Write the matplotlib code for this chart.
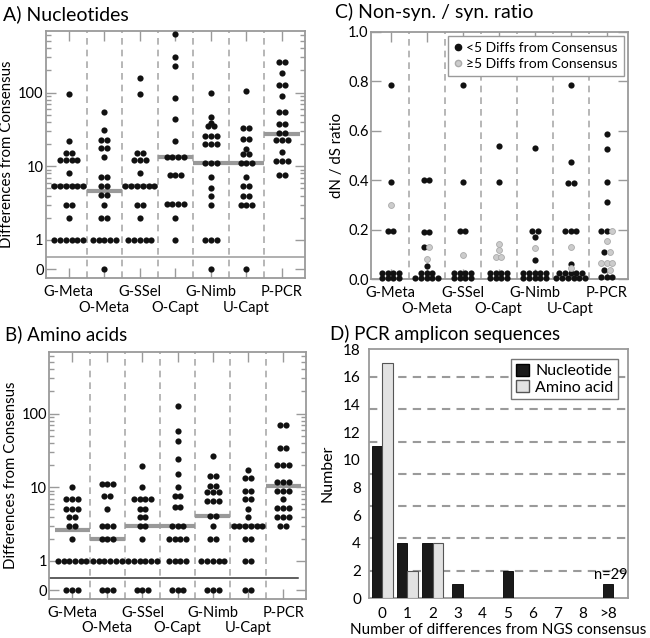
import numpy as np
import matplotlib
matplotlib.use('Agg')
import matplotlib.pyplot as plt
from matplotlib.ticker import FixedLocator, NullFormatter, FuncFormatter
from matplotlib.lines import Line2D
from matplotlib.patches import Patch
from collections import Counter

plt.rcParams['font.family'] = ['Lato', 'DejaVu Sans']

groups = ['G-Meta', 'O-Meta', 'G-SSel', 'O-Capt', 'G-Nimb', 'U-Capt', 'P-PCR']

# A) nucleotide differences from consensus (one list per group)
nt_diffs = [
    [95, 22, 15, 15, 12, 12, 12, 12, 8, 5.4, 5.4, 5.4, 5.4, 5.4, 5.4, 3, 3, 2, 1, 1, 1, 1, 1, 1],
    [55, 31, 22.5, 22.5, 17.5, 17.5, 13.5, 7.1, 7.1, 5.4, 5.4, 4.1, 4.1, 3, 2, 2, 1, 1, 1, 1, 1, 0],
    [157, 95, 15, 15, 12, 12, 12, 8, 5.4, 5.4, 5.4, 5.4, 5.4, 5.4, 3, 3, 2, 1, 1, 1, 1, 1],
    [615, 306, 230, 84, 44, 22, 13.2, 13.2, 13.2, 13.2, 7.6, 7.6, 7.6, 3.1, 3.1, 3.1, 3.1, 2, 1],
    [100, 46, 39, 35, 35, 26, 26, 26, 20, 20, 20, 11, 11, 11, 7.1, 5.1, 4, 3, 1, 1, 1, 0],
    [106, 33.5, 33.5, 23.5, 23.5, 17.3, 14.7, 14.7, 11, 11, 11, 7.1, 5.4, 5.4, 4, 4, 3, 3, 3, 0],
    [257, 257, 186, 127, 127, 90, 55, 55, 38, 38, 28, 28, 22.7, 22.7, 22.7, 15.5, 11.7, 11.7, 11.7, 7.6, 7.6],
]
nt_medians = [5.4, 4.6, 5.4, 13.2, 11, 11, 27.5]

# B) amino acid differences from consensus
aa_diffs = [
    [10, 7, 7, 7, 5, 5, 5, 3.9, 3.9, 3, 3, 2, 1, 1, 1, 1, 1, 1, 0, 0, 0],
    [11.2, 11.2, 11.2, 7.6, 7.6, 5, 3, 3, 3, 2, 2, 2, 1, 1, 1, 1, 1, 1, 0, 0, 0],
    [19.3, 10, 7, 7, 7, 7, 5, 5, 3.9, 3.9, 3, 3, 2, 1, 1, 1, 1, 1, 1, 0, 0, 0],
    [125, 58, 42, 24.4, 15.3, 10, 7.6, 7.6, 5.4, 5.4, 3, 3, 3, 2, 2, 2, 2, 1, 1, 1, 1, 0, 0, 0],
    [26.4, 14, 14, 10.3, 10.3, 8.7, 8.7, 8.7, 6.5, 6.5, 6.5, 4.1, 4.1, 3, 2, 2, 1, 1, 1, 1, 1, 0, 0, 0],
    [17.3, 13.3, 13.3, 9, 9, 7, 7, 5, 4, 3, 3, 3, 3, 3, 3, 2, 2, 1, 1, 0, 0],
    [69, 69, 34, 34, 20, 20, 20, 11.7, 11.7, 11.7, 9, 9, 9, 7, 5.3, 5.3, 5.3, 4, 4, 4, 3, 3],
]
aa_medians = [2.65, 2.0, 3.0, 3.0, 4.1, 3.0, 10.4]

# C) dN/dS ratio, split by number of differences from consensus
dnds_low = [
    [0.785, 0.394, 0.196, 0.196, 0.024, 0.024, 0.024, 0.024, 0.004, 0.004, 0.004, 0.004],
    [0.402, 0.402, 0.192, 0.192, 0.132, 0.055, 0.024, 0.024, 0.024, 0.004, 0.004, 0.004, 0.004, 0.004],
    [0.785, 0.394, 0.196, 0.196, 0.024, 0.024, 0.024, 0.024, 0.004, 0.004, 0.004, 0.004],
    [0.538, 0.394, 0.024, 0.024, 0.024, 0.024, 0.004, 0.004, 0.004, 0.004],
    [0.529, 0.196, 0.196, 0.170, 0.078, 0.024, 0.024, 0.024, 0.024, 0.024, 0.004, 0.004, 0.004, 0.004, 0.004],
    [0.785, 0.472, 0.390, 0.390, 0.196, 0.196, 0.196, 0.061, 0.024, 0.024, 0.024, 0.024, 0.024,
     0.004, 0.004, 0.004, 0.004, 0.004, 0.004],
    [0.586, 0.525, 0.392, 0.313, 0.196, 0.196, 0.109, 0.038, 0.008, 0.008, 0.008],
]
dnds_high = [
    [0.30],
    [0.132, 0.082],
    [0.098],
    [0.143, 0.118, 0.091, 0.091],
    [0.128],
    [0.132, 0.044],
    [0.196, 0.156, 0.109, 0.067, 0.067, 0.067, 0.038],
]

# D) PCR amplicon sequences
d_cats = ['0', '1', '2', '3', '4', '5', '6', '7', '8', '>8']
d_nuc = [11, 4, 4, 1, 0, 2, 0, 0, 0, 1]
d_aa = [17, 2, 4, 0, 0, 0, 0, 0, 0, 0]


def rows(vals, dx):
    # equal values sit side by side, centred on the group
    counts = Counter(vals)
    seen = {}
    offs = []
    for v in vals:
        k = seen.get(v, 0)
        seen[v] = k + 1
        offs.append((k - (counts[v] - 1) / 2) * dx)
    return np.array(offs)


def fwd(v):
    v = np.asarray(v, dtype=float)
    return np.where(v >= 1, np.log10(np.clip(v, 1, None)), (v - 1) * 0.4)


def inv(y):
    y = np.asarray(y, dtype=float)
    return np.where(y >= 0, 10 ** np.clip(y, None, 12), y / 0.4 + 1)


GRID = '#9a9a9a'


def dot_axes(ax):
    for sp in ax.spines.values():
        sp.set_color(GRID)
        sp.set_linewidth(1.3)
    ax.tick_params(which='both', direction='in', color=GRID, top=True, right=True,
                   labelsize=10.5, width=1)
    ax.tick_params(axis='y', which='major', length=7, pad=1.5)
    ax.tick_params(axis='y', which='minor', length=3.5)
    # staggered group labels: even groups on the first line, odd groups below
    ax.set_xticks(range(0, len(groups), 2))
    ax.set_xticklabels(groups[0::2])
    ax.set_xticks(range(1, len(groups), 2), minor=True)
    ax.set_xticklabels(groups[1::2], minor=True)
    ax.tick_params(axis='x', which='major', length=7, pad=5)
    ax.tick_params(axis='x', which='minor', length=7, pad=16)
    for i in range(len(groups) - 1):
        ax.axvline(i + 0.5, color='#aaaaaa', lw=1.2, ls=(0, (4, 3)), zorder=1)


def diff_panel(ax, data, medians, break_color, break_xmax):
    dot_axes(ax)
    ax.set_yscale('function', functions=(fwd, inv))
    ax.set_xlim(-0.65, 6.65)
    ax.set_ylim(-0.3, 690)
    ax.yaxis.set_major_locator(FixedLocator([0, 1, 10, 100]))
    ax.yaxis.set_major_formatter(FuncFormatter(lambda v, p: f'{v:g}'))
    ax.yaxis.set_minor_locator(FixedLocator(
        [2, 3, 4, 5, 6, 7, 8, 9, 20, 30, 40, 50, 60, 70, 80, 90, 200, 300, 400, 500, 600]))
    ax.yaxis.set_minor_formatter(NullFormatter())
    ax.axhline(0.41, xmax=break_xmax, color=break_color, lw=1.1, zorder=2)
    for i, vals in enumerate(data):
        ax.plot([i - 0.5, i + 0.5], [medians[i], medians[i]], color='#999999', lw=3,
                solid_capstyle='butt', zorder=2)
        ax.scatter(i + rows(vals, 0.163), vals, s=20, color='#111111', lw=0, zorder=3)
    ax.set_ylabel('Differences from Consensus', fontsize=10.8, labelpad=3)


fig = plt.figure(figsize=(6.5, 6.38), dpi=100)

axA = fig.add_axes([0.0703, 0.5638, 0.3989, 0.3881])
axB = fig.add_axes([0.0758, 0.0607, 0.3949, 0.3881])
axC = fig.add_axes([0.5703, 0.5622, 0.3963, 0.3881])
axD = fig.add_axes([0.5682, 0.0622, 0.3975, 0.3903])

diff_panel(axA, nt_diffs, nt_medians, GRID, 1)
diff_panel(axB, aa_diffs, aa_medians, '#333333', 0.97)

# C
dot_axes(axC)
axC.set_xlim(-0.55, 6.6)
axC.set_ylim(0, 1.0)
axC.set_yticks(np.arange(0, 1.01, 0.2))
axC.yaxis.set_major_formatter(FuncFormatter(lambda v, p: f'{v:.1f}'))
for i in range(len(groups)):
    vals = dnds_low[i] + dnds_high[i]
    offs = i + rows(vals, 0.16)
    n = len(dnds_low[i])
    axC.scatter(offs[:n], vals[:n], s=20, color='#111111', lw=0, zorder=3, clip_on=False)
    axC.scatter(offs[n:], vals[n:], s=18, color='#cccccc', edgecolor='#aaaaaa', lw=0.6,
                zorder=4, clip_on=False)
axC.set_ylabel('dN / dS ratio', fontsize=10.8, labelpad=3)
hC = [Line2D([], [], ls='', marker='o', ms=4.5, mfc='#111111', mec='#111111'),
      Line2D([], [], ls='', marker='o', ms=4.5, mfc='#cccccc', mec='#aaaaaa')]
lgC = axC.legend(hC, ['<5 Diffs from Consensus', '\u22655 Diffs from Consensus'],
                 loc='upper right', fontsize=10, handlelength=0.6, handletextpad=0.3,
                 borderpad=0.45, labelspacing=0.25, borderaxespad=0.3, fancybox=False,
                 framealpha=1)
lgC.get_frame().set_edgecolor(GRID)
lgC.get_frame().set_linewidth(1)

# D
x = np.arange(len(d_cats))
nuc = np.array(d_nuc)
aa = np.array(d_aa)
w = 0.42
nuc_x = np.where(aa > 0, x - w / 2, x)
for g in np.linspace(2, 16, 7):
    axD.axhline(g, color=GRID, lw=1.5, ls=(0, (4, 3)), zorder=1)
axD.bar(nuc_x[nuc > 0], nuc[nuc > 0], w, color='#1a1a1a', edgecolor='#000000', lw=0.6, zorder=3)
axD.bar(x[aa > 0] + w / 2, aa[aa > 0], w, color='#e2e2e2', edgecolor='#555555', lw=0.8, zorder=3)
axD.text(nuc_x[-1] + 0.12, nuc[-1] + 0.15, 'n=29', ha='center', va='bottom', fontsize=10.5)
axD.set_xlim(-0.52, 9.78)
axD.set_ylim(0, 18)
axD.set_yticks(range(0, 19, 2))
axD.set_xticks(x)
axD.set_xticklabels(d_cats)
axD.tick_params(length=0, labelsize=11, pad=6)
for sp in axD.spines.values():
    sp.set_color(GRID)
    sp.set_linewidth(1.3)
axD.set_xlabel('Number of differences from NGS consensus', fontsize=11, labelpad=2)
axD.set_ylabel('Number', fontsize=11.5, labelpad=6)
hD = [Patch(facecolor='#1a1a1a', edgecolor='#000000'),
      Patch(facecolor='#e2e2e2', edgecolor='#555555')]
lgD = axD.legend(hD, ['Nucleotide', 'Amino acid'], loc='upper right', fontsize=11.5,
                 handlelength=0.8, handleheight=0.8, handletextpad=0.4, borderpad=0.3,
                 labelspacing=0.1, borderaxespad=0.6, fancybox=False, framealpha=1)
lgD.get_frame().set_edgecolor('#777777')

fig.text(0.005, 1 - 14 / 638, 'A) Nucleotides', fontsize=14, va='center')
fig.text(0.008, 1 - 334 / 638, 'B) Amino acids', fontsize=13.5, va='center')
fig.text(0.515, 1 - 12 / 638, 'C) Non-syn. / syn. ratio', fontsize=14, va='center')
fig.text(0.507, 1 - 334 / 638, 'D) PCR amplicon sequences', fontsize=13.5, va='center')

fig.savefig('out.png', dpi=100)
